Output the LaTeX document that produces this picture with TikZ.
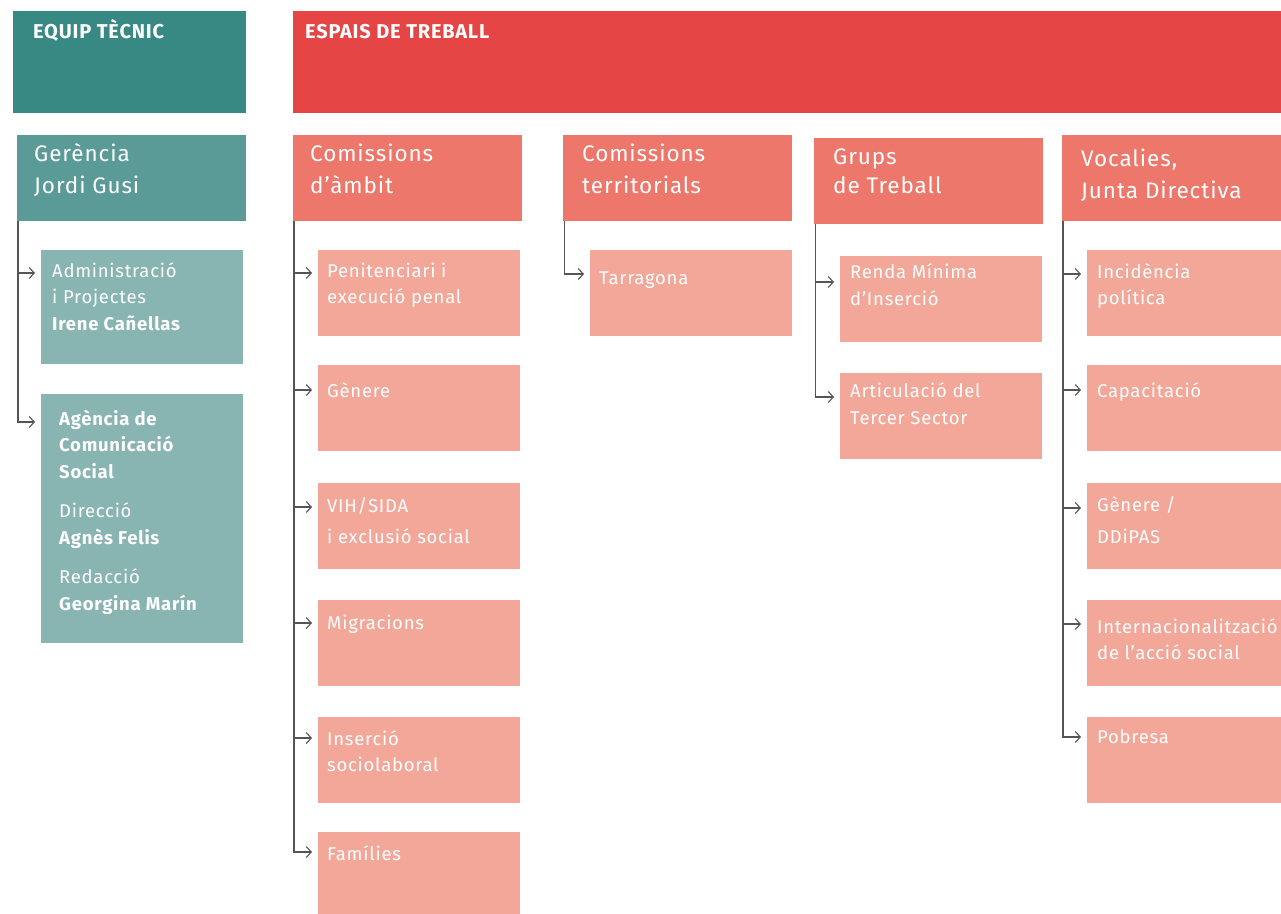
\documentclass[tikz,border=0pt]{standalone}
\usepackage{fontspec}
\setmainfont{Fira Sans}[LetterSpace=4]
\usetikzlibrary{positioning,calc,arrows.meta}

\definecolor{tealdark}{HTML}{388884}
\definecolor{tealmid}{HTML}{5A9B98}
\definecolor{teallight}{HTML}{88B4B2}
\definecolor{redtop}{HTML}{E54545}
\definecolor{salmon}{HTML}{EC776A}
\definecolor{salmonlight}{HTML}{F3A799}
\definecolor{linkgray}{HTML}{555555}

% lines of a box, baseline on the first line
\newcommand\boxlines[1]{\begin{tabular}[t]{@{}l@{}}#1\end{tabular}}

\begin{document}
\begin{tikzpicture}[x=1pt,y=-1pt,
  tile/.style={anchor=north west, inner sep=0pt, outer sep=0pt, minimum width=202pt, minimum height=86pt},
  head/.style={tile, minimum width=229pt, fill=salmon},
  txt/.style={anchor=base west, inner sep=0pt, text=white, font=\fontsize{18.5}{26.5}\selectfont},
  headtxt/.style={txt, font=\fontsize{22.5}{32}\selectfont},
  toptxt/.style={txt, font=\bfseries\fontsize{20}{22}\selectfont},
  link/.style={draw=linkgray, line width=1.1pt, -{Straight Barb[length=5pt,width=11pt]}}
]
\useasboundingbox (0,0) rectangle (1281,913);

% top bars
\node[tile, fill=tealdark, minimum width=233pt, minimum height=102pt] (equip) at (13,11) {};
\node[toptxt] (equip-t) at ([shift={(20pt,-27pt)}]equip.north west) {EQUIP TÈCNIC};
\node[tile, fill=redtop, minimum width=1000pt, minimum height=102pt] (espais) at (293,11) {};
\node[toptxt] (espais-t) at ([shift={(12pt,-27pt)}]espais.north west) {ESPAIS DE TREBALL};

% heads
\node[head, fill=tealmid] (ger) at (17,135) {};
\node[headtxt] (ger-t) at ([shift={(17pt,-26pt)}]ger.north west) {\boxlines{Gerència\\Jordi Gusi}};
\node[head] (amb) at (293,135) {};
\node[headtxt] (amb-t) at ([shift={(17pt,-26pt)}]amb.north west) {\boxlines{Comissions\\d’àmbit}};
\node[head] (ter) at (563,135) {};
\node[headtxt] (ter-t) at ([shift={(19pt,-26pt)}]ter.north west) {\boxlines{Comissions\\territorials}};
\node[head] (grp) at (814,138) {};
\node[headtxt] (grp-t) at ([shift={(19pt,-26pt)}]grp.north west) {\boxlines{Grups\\[-3pt]de Treball}};
\node[head] (voc) at (1062,135) {};
\node[headtxt] (voc-t) at ([shift={(19pt,-31pt)}]voc.north west) {\boxlines{Vocalies,\\Junta Directiva}};

% equip tecnic
\node[tile, fill=teallight, minimum height=114pt] (adm) at (41,250) {};
\node[txt] (adm-t) at ([shift={(11pt,-27pt)}]adm.north west) {\boxlines{Administració\\i Projectes\\\textbf{Irene Cañellas}}};
\node[tile, fill=teallight, minimum height=249pt] (agc) at (41,394) {};
\node[txt] (agc-t) at ([shift={(18pt,-31pt)}]agc.north west)
  {\boxlines{\textbf{Agència de}\\\textbf{Comunicació}\\\textbf{Social}\\[13pt]Direcció\\\textbf{Agnès Felis}\\[13pt]Redacció\\\textbf{Georgina Marín}}};
\draw[link] ([xshift=1pt]ger.south west) |- ([shift={(-6pt,-23pt)}]adm.north west);
\draw[link] ([xshift=1pt]ger.south west) |- ([shift={(-6pt,-28pt)}]agc.north west);

% comissions d'ambit
\foreach \n/\y/\b/\a/\lbl in {pen/250/27/23/{Penitenciari i\\execució penal},
    gen/365/32/25/{Gènere}, vih/483/29/24/{VIH/SIDA\\[5pt]i exclusió social},
    mig/600/29/23/{Migracions}, ins/717/28/21/{Inserció\\sociolaboral},
    fam/832/28/20/{Famílies}}{
  \node[tile, fill=salmonlight] (\n) at (318,\y) {};
  \node[txt] (\n-t) at ([shift={(9pt,-\b pt)}]\n.north west) {\boxlines{\lbl}};
  \draw[link] ([xshift=1pt]amb.south west) |- ([shift={(-6pt,-\a pt)}]\n.north west);
}

% comissions territorials
\node[tile, fill=salmonlight] (tar) at (590,250) {};
\node[txt] (tar-t) at ([shift={(9pt,-34pt)}]tar.north west) {Tarragona};
\draw[link] ([xshift=1.5pt]ter.south west) |- ([shift={(-6pt,-24pt)}]tar.north west);

% grups de treball
\foreach \n/\y/\b/\a/\lbl in {ren/256/22/26/{Renda Mínima\\[1pt]d’Inserció},
    art/373/24/24/{Articulació del\\[1pt]Tercer Sector}}{
  \node[tile, fill=salmonlight] (\n) at (840,\y) {};
  \node[txt] (\n-t) at ([shift={(10pt,-\b pt)}]\n.north west) {\boxlines{\lbl}};
  \draw[link] ([xshift=1.5pt]grp.south west) |- ([shift={(-6pt,-\a pt)}]\n.north west);
}

% vocalies
\foreach \n/\y/\b/\a/\lbl in {inc/250/28/24/{Incidència\\política},
    cap/365/32/25/{Capacitació}, gdd/483/28/25/{Gènere /\\[6pt]DDiPAS},
    int/600/33/24/{Internacionalització\\de l’acció social},
    pob/717/26/20/{Pobresa}}{
  \node[tile, fill=salmonlight] (\n) at (1087,\y) {};
  \node[txt] (\n-t) at ([shift={(10pt,-\b pt)}]\n.north west) {\boxlines{\lbl}};
  \draw[link] ([xshift=1pt]voc.south west) |- ([shift={(-6pt,-\a pt)}]\n.north west);
}

\end{tikzpicture}
\end{document}
